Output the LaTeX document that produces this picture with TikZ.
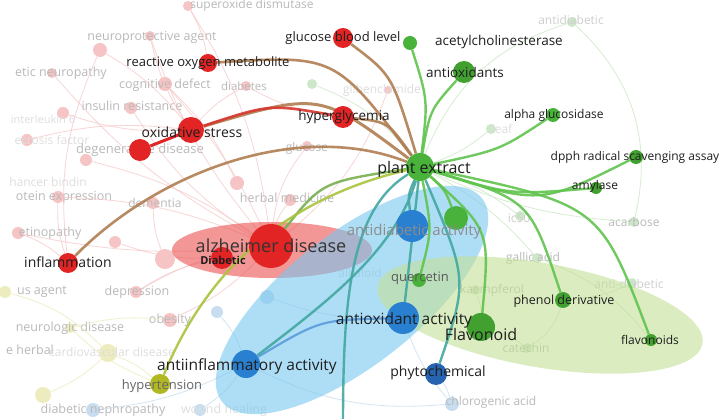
\documentclass[tikz,border=0pt]{standalone}
\usepackage{fontspec}
\setmainfont{Open Sans}
\pgfdeclarelayer{bgl}
\pgfdeclarelayer{faint}
\pgfdeclarelayer{hulls}
\pgfdeclarelayer{edges}
\pgfsetlayers{bgl,faint,hulls,edges,main}
\newcommand\myfs[1]{\fontsize{#1}{#1}\selectfont}
\definecolor{gN}{RGB}{72,178,58}
\definecolor{gD}{RGB}{66,160,48}
\definecolor{rN}{RGB}{226,36,36}
\definecolor{bN}{RGB}{42,128,208}
\definecolor{bD}{RGB}{38,100,178}
\definecolor{yN}{RGB}{178,184,34}
\definecolor{labc}{RGB}{30,30,30}
\definecolor{fadec}{RGB}{185,185,185}
\definecolor{fadelc}{RGB}{222,222,222}
\definecolor{pinkF}{RGB}{246,196,196}
\definecolor{yelF}{RGB}{236,236,190}
\definecolor{bluF}{RGB}{200,222,240}
\definecolor{grnF}{RGB}{205,232,200}
\definecolor{eG}{RGB}{96,196,78}
\definecolor{eT}{RGB}{66,168,160}
\definecolor{eB}{RGB}{176,126,82}
\definecolor{eY}{RGB}{170,196,60}
\definecolor{redH}{RGB}{236,80,80}
\definecolor{bluH}{RGB}{120,200,240}
\definecolor{grnH}{RGB}{196,224,150}
\begin{document}
\begin{tikzpicture}[x=1pt,y=-1pt,
  dot/.style={circle,inner sep=0pt,minimum size=#1},
  lab/.style={inner sep=0pt,text=labc,font=\myfs{#1}},
  flab/.style={inner sep=0pt,text=fadec,font=\myfs{#1}},
  ge/.style={draw=eG,line width=2.4pt,opacity=.9},
  te/.style={draw=eT,line width=2.4pt,opacity=.9},
  be/.style={draw=eB,line width=2.6pt,opacity=.9},
  fe/.style={draw=pinkF,line width=.8pt,opacity=.7},
  fg/.style={draw=grnF,line width=.8pt,opacity=.8},
  fb/.style={draw=bluF,line width=.8pt,opacity=.8},
  fy/.style={draw=yelF,line width=.8pt,opacity=.8}]
\useasboundingbox (0,0) rectangle (728,419);
\clip (0,0) rectangle (728,419);
\begin{pgfonlayer}{bgl}
\fill[white] (0,0) rectangle (728,419);
\end{pgfonlayer}

% ---------- faded nodes and labels ----------
\begin{pgfonlayer}{faint}
\node[dot=10pt,fill=pinkF] (fsod) at (188,6) {};
\node[flab=12] (fsodL) at (252,5) {superoxide dismutase};
\node[dot=14pt,fill=pinkF] (fnp) at (100,50) {};
\node[dot=10pt,fill=pinkF] (fneu) at (150,36) {};
\node[flab=12.5] (fneuL) at (152,37) {neuroprotective agent};
\node[dot=10pt,fill=pinkF] (fdn) at (52,73) {};
\node[flab=12.5] (fdnL) at (61,73) {etic neuropathy};
\node[dot=14pt,fill=pinkF] (fcog) at (165,84) {};
\node[flab=12.5] (fcogL) at (165,85) {cognitive defect};
\node[dot=10pt,fill=pinkF] (fdb) at (246,86) {};
\node[flab=11.5] (fdbL) at (244,86) {diabetes};
\node[dot=12pt,fill=pinkF] (fins) at (131,108) {};
\node[flab=12.5] (finsL) at (132,106) {insulin resistance};
\node[dot=12pt,fill=pinkF] (fil) at (63,113) {};
\node[inner sep=0pt,text=fadelc,font=\myfs{11}] (filL) at (43,119) {interleukin 6};
\node[dot=12pt,fill=pinkF] (fnf) at (27,140) {};
\node[inner sep=0pt,text=fadelc,font=\myfs{12}] (fnfL) at (52,140) {ecrosis factor};
\node[dot=12pt,fill=pinkF] (fdg) at (86,160) {};
\node[flab=13] (fdgL) at (140,150) {degenerative disease};
\node[dot=8pt,fill=pinkF] (fgl) at (388,90) {};
\node[inner sep=0pt,text=fadelc,font=\myfs{12}] (fglL) at (382,90) {glibenclamide};
\node[dot=10pt,fill=grnF] (fgn) at (312,84) {};
\node[dot=10pt,fill=pinkF] (fglu) at (307,146) {};
\node[flab=12] (fgluL) at (307,148) {glucose};
\node[dot=10pt,fill=grnF] (flf) at (491,129) {};
\node[inner sep=0pt,text=fadelc,font=\myfs{12}] (flfL) at (502,129) {leaf};
\node[inner sep=0pt,text=fadelc,font=\myfs{12}] (fhbL) at (48,182) {hancer bindin};
\node[dot=12pt,fill=pinkF] (fpe) at (58,197) {};
\node[flab=12.5] (fpeL) at (64,197) {otein expression};
\node[dot=12pt,fill=pinkF] (fdem) at (153,203) {};
\node[flab=12] (fdemL) at (155,203) {dementia};
\node[dot=12pt,fill=pinkF] (fhm) at (290,200) {};
\node[dot=14pt,fill=pinkF] (fpk) at (237,183) {};
\node[flab=12.5] (fhmL) at (287,198) {herbal medicine};
\node[dot=12pt,fill=pinkF] (fret) at (18,233) {};
\node[flab=12.5] (fretL) at (50,233) {etinopathy};
\node[dot=12pt,fill=pinkF] (fp2) at (115,242) {};
\node[dot=20pt,fill=pinkF] (fp3) at (165,259) {};
\node[dot=12pt,fill=yelF] (fus) at (5,292) {};
\node[flab=12.5] (fusL) at (42,292) {us agent};
\node[dot=12pt,fill=pinkF] (fdep) at (136,292) {};
\node[flab=12.5] (fdepL) at (137,292) {depression};
\node[dot=14pt,fill=pinkF] (fob) at (170,320) {};
\node[flab=12.5] (fobL) at (170,320) {obesity};
\node[dot=12pt,fill=bluF] (fb0) at (217,312) {};
\node[dot=14pt,fill=bluF] (fb1) at (267,297) {};
\node[dot=10pt,fill=yelF] (fnd) at (70,328) {};
\node[flab=12.5] (fndL) at (70,328) {neurologic disease};
\node[flab=12.5] (fehL) at (30,350) {e herbal};
\node[dot=18pt,fill=yelF] (fcv) at (108,353) {};
\node[inner sep=0pt,text=fadelc,font=\myfs{12}] (fcvL) at (112,352) {cardiovascular disease};
\node[dot=16pt,fill=yelF] (fy3) at (43,395) {};
\node[dot=14pt,fill=bluF] (fb2) at (93,410) {};
\node[flab=12.5] (fdnpL) at (103,410) {diabetic nephropathy};
\node[dot=12pt,fill=bluF] (fwh) at (200,410) {};
\node[inner sep=0pt,text=fadelc,font=\myfs{12.5}] (fwhL) at (224,410) {wound healing};
\node[dot=14pt,fill=bluF] (fchl) at (452,404) {};
\node[flab=12] (fchlL) at (491,402) {chlorogenic acid};
\node[dot=10pt,fill=grnF] (fcat) at (527,348) {};
\node[flab=12] (fcatL) at (526,348) {catechin};
\node[dot=10pt,fill=grnF] (fkae) at (475,290) {};
\node[flab=12] (fkaeL) at (492,290) {kaempferol};
\node[dot=10pt,fill=grnF] (fgal) at (537,258) {};
\node[flab=12] (fgalL) at (533,258) {gallic acid};
\node[dot=10pt,fill=grnF] (fic) at (520,216) {};
\node[inner sep=0pt,text=fadec!70!white,font=\myfs{12}] (ficL) at (519,218) {ic50};
\node[dot=10pt,fill=grnF] (faca) at (634,222) {};
\node[flab=12] (facaL) at (634,222) {acarbose};
\node[dot=10pt,fill=grnF] (fadb) at (572,22) {};
\node[inner sep=0pt,text=fadec!70!white,font=\myfs{12}] (fadbL) at (571,20) {antidiabetic};
\node[dot=10pt,fill=grnF] (fanti) at (632,283) {};
\node[inner sep=0pt,text=fadec!70!white,font=\myfs{12}] (fantiL) at (629,284) {anti-diabetic};
\node[inner sep=0pt,text=fadelc,font=\myfs{12}] (falkL) at (360,273) {alkaloid};
\end{pgfonlayer}

% ---------- main nodes ----------
\node[dot=28pt,fill=gN] (pe) at (420,167) {};
\node[dot=14pt,fill=gN] (ache) at (410,43) {};
\node[dot=22pt,fill=gD] (aox) at (464,72) {};
\node[dot=14pt,fill=gN] (agl) at (553,115) {};
\node[dot=14pt,fill=gD] (dpph) at (636,157) {};
\node[dot=12pt,fill=gD] (amy) at (596,188) {};
\node[dot=24pt,fill=gN] (gx) at (456,218) {};
\node[dot=14pt,fill=gN] (quer) at (419,280) {};
\node[dot=28pt,fill=gD] (flv) at (481,327) {};
\node[dot=16pt,fill=gD] (phd) at (563,300) {};
\node[dot=12pt,fill=gD] (flvs) at (651,340) {};
\node[dot=44pt,fill=rN] (alz) at (271,246) {};
\node[dot=22pt,fill=rN] (dia) at (222,258) {};
\node[dot=26pt,fill=rN] (os) at (191,130) {};
\node[dot=22pt,fill=rN] (rx) at (140,150) {};
\node[dot=18pt,fill=rN] (rom) at (208,63) {};
\node[dot=20pt,fill=rN] (gbl) at (343,38) {};
\node[dot=22pt,fill=rN] (hyp) at (343,117) {};
\node[dot=20pt,fill=rN] (infl) at (68,263) {};
\node[dot=32pt,fill=bN] (adb) at (412,226) {};
\node[dot=32pt,fill=bN] (aoa) at (403,318) {};
\node[dot=28pt,fill=bN] (ain) at (246,364) {};
\node[dot=22pt,fill=bD] (phy) at (436,374) {};
\node[dot=20pt,fill=yN] (hyt) at (160,384) {};
\coordinate (bot) at (343,425);

% ---------- hulls ----------
\begin{pgfonlayer}{hulls}
\fill[redH,opacity=.6] (272,250) ellipse [x radius=100pt,y radius=28pt];
\fill[bluH,opacity=.6,rotate around={38:(352,300)}] (352,300) ellipse [x radius=165pt,y radius=66pt];
\fill[grnH,opacity=.6,rotate around={-10:(540,315)}] (540,315) ellipse [x radius=165pt,y radius=52pt];
\end{pgfonlayer}

% ---------- edges ----------
\begin{pgfonlayer}{faint}
\draw[fe] (alz) to[bend left=10] (fneu);
\draw[fe] (alz) to[bend right=8] (fcog);
\draw[fe] (alz) to[bend left=12] (fins);
\draw[fe] (alz) to[bend right=10] (fpe);
\draw[fe] (alz) to[bend left=8] (fret);
\draw[fe] (alz) to[bend right=10] (fdep);
\draw[fe] (alz) to[bend left=10] (fob);
\draw[fe] (alz) to[bend right=10] (fdg);
\draw[fe] (alz) to[bend left=10] (fhm);
\draw[fe] (alz) to[bend right=12] (fsod);
\draw[fe] (alz) to[bend left=10] (fdn);
\draw[fe] (alz) to[bend right=15] (fgl);
\draw[fe] (alz) to[bend left=15] (fglu);
\draw[fe] (os) to[bend left=10] (fneu);
\draw[fe] (os) to[bend right=10] (fnp);
\draw[fe] (os) to[bend left=10] (fil);
\draw[fe] (os) to[bend right=10] (fnf);
\draw[fe] (os) to[bend left=10] (fdb);
\draw[fe] (infl) to[bend left=10] (fpe);
\draw[fe] (infl) to[bend right=10] (fret);
\draw[fe] (infl) to[bend left=15] (fnp);
\draw[fe] (dia) to[bend right=10] (fdep);
\draw[fe] (dia) to[bend left=10] (fp2);
\draw[fe] (fp3) to[bend left=10] (fdem);
\draw[fe] (rom) to[bend right=10] (fsod);
\draw[fe] (hyp) to[bend left=10] (fdb);
\draw[fe] (fpk) to[bend right=10] (fcog);
\draw[fy] (hyt) to[bend left=10] (fnd);
\draw[fy] (hyt) to[bend right=10] (fcv);
\draw[fy] (fcv) to[bend left=10] (fy3);
\draw[fy] (fus) to[bend left=15] (fcv);
\draw[fy] (fnd) to[bend left=10] (fob);
\draw[fb] (ain) to[bend left=10] (fwh);
\draw[fb] (ain) to[bend right=10] (fb0);
\draw[fb] (ain) to[bend left=10] (fb2);
\draw[fb] (aoa) to[bend right=10] (fchl);
\draw[fb] (phy) to[bend left=10] (fchl);
\draw[fb] (aoa) to[bend left=10] (fb1);
\draw[fb] (ain) to[bend right=15] (fchl);
\draw[fg] (pe) to[bend left=25] (fadb);
\draw[fg] (fadb) to[bend left=30] (faca);
\draw[fg] (pe) to[bend right=10] (flf);
\draw[fg] (pe) to[bend left=10] (fic);
\draw[fg] (pe) to[bend right=10] (faca);
\draw[fg] (pe) to[bend left=10] (fgal);
\draw[fg] (pe) to[bend right=15] (fgn);
\draw[fg] (flv) to[bend left=10] (fcat);
\draw[fg] (phd) to[bend right=10] (fanti);
\draw[fg] (flv) to[bend right=10] (fkae);
\draw[fg] (phd) to[bend left=20] (fcat);
\draw[fg] (flvs) to[bend right=15] (fgal);
\end{pgfonlayer}

\begin{pgfonlayer}{edges}
\draw[ge] (pe) .. controls (428,100) .. (ache);
\draw[ge] (pe) .. controls (430,110) .. (aox);
\draw[ge] (pe) .. controls (500,150) .. (agl);
\draw[ge] (pe) .. controls (540,205) .. (dpph);
\draw[ge] (pe) .. controls (510,195) .. (amy);
\draw[ge] (pe) .. controls (600,205) .. (flvs);
\draw[ge] (pe) .. controls (530,200) .. (phd);
\draw[ge] (pe) .. controls (490,230) .. (flv);
\draw[ge] (pe) .. controls (432,230) .. (quer);
\draw[ge] (pe) .. controls (445,190) .. (gx);
\draw[te] (pe) .. controls (412,240) .. (aoa);
\draw[te] (pe) .. controls (408,195) .. (adb);
\draw[te] (pe) .. controls (468,280) .. (phy);
\draw[te] (pe) .. controls (395,250) and (330,300) .. (ain);
\draw[te] (pe) .. controls (350,210) and (343,300) .. (bot);
\draw[draw=bN!80!white,line width=2.2pt,opacity=.85] (ain) .. controls (320,320) .. (aoa);
\draw[be] (pe) .. controls (335,55) .. (rom);
\draw[be] (pe) .. controls (392,75) .. (gbl);
\draw[be] (pe) .. controls (388,122) .. (hyp);
\draw[be,line width=3pt] (pe) .. controls (320,92) .. (os);
\draw[draw=rN!80!eB,line width=2.6pt,opacity=.9] (os) .. controls (270,104) .. (hyp);
\draw[draw=rN,line width=3pt] (os) -- (rx);
\draw[be] (pe) .. controls (300,120) and (160,170) .. (infl);
\draw[draw=eG!70!eB,line width=2.4pt,opacity=.9] (pe) .. controls (322,182) .. (alz);
\draw[draw=eY,line width=2.4pt,opacity=.9] (pe) .. controls (280,200) and (205,275) .. (hyt);
\end{pgfonlayer}

% ---------- labels ----------
\node[lab=16] (peL) at (424,169) {plant extract};
\node[lab=13.5] (acheL) at (499,42) {acetylcholinesterase};
\node[lab=13.5] (aoxL) at (465,72) {antioxidants};
\node[lab=12] (aglL) at (554,115) {alpha glucosidase};
\node[lab=12] (dpphL) at (635,157) {dpph radical scavenging assay};
\node[lab=12] (amyL) at (595,186) {amylase};
\node[inner sep=0pt,text=black!65,font=\myfs{13}] (querL) at (420,278) {quercetin};
\node[lab=16] (flvL) at (481,335) {Flavonoid};
\node[lab=12.5] (phdL) at (564,301) {phenol derivative};
\node[lab=12] (flvsL) at (650,340) {flavonoids};
\node[inner sep=0pt,text=black!80,font=\myfs{18}] (alzL) at (271,246) {alzheimer disease};
\node[inner sep=0pt,text=labc,font=\myfs{11}\bfseries] (diaL) at (223,260) {Diabetic};
\node[lab=14] (osL) at (192,132) {oxidative stress};
\node[lab=13] (romL) at (208,63) {reactive oxygen metabolite};
\node[lab=13] (gblL) at (343,38) {glucose blood level};
\node[lab=13.5] (hypL) at (344,117) {hyperglycemia};
\node[lab=14] (inflL) at (68,262) {inflammation};
\node[inner sep=0pt,text=black!45,font=\myfs{15}] (adbL) at (414,232) {antidiabetic activity};
\node[lab=15.5] (aoaL) at (404,320) {antioxidant activity};
\node[lab=15.5] (ainL) at (247,366) {antiinflammatory activity};
\node[lab=14] (phyL) at (438,373) {phytochemical};
\node[inner sep=0pt,text=black!60,font=\myfs{13}] (hytL) at (162,386) {hypertension};
\end{tikzpicture}
\end{document}
